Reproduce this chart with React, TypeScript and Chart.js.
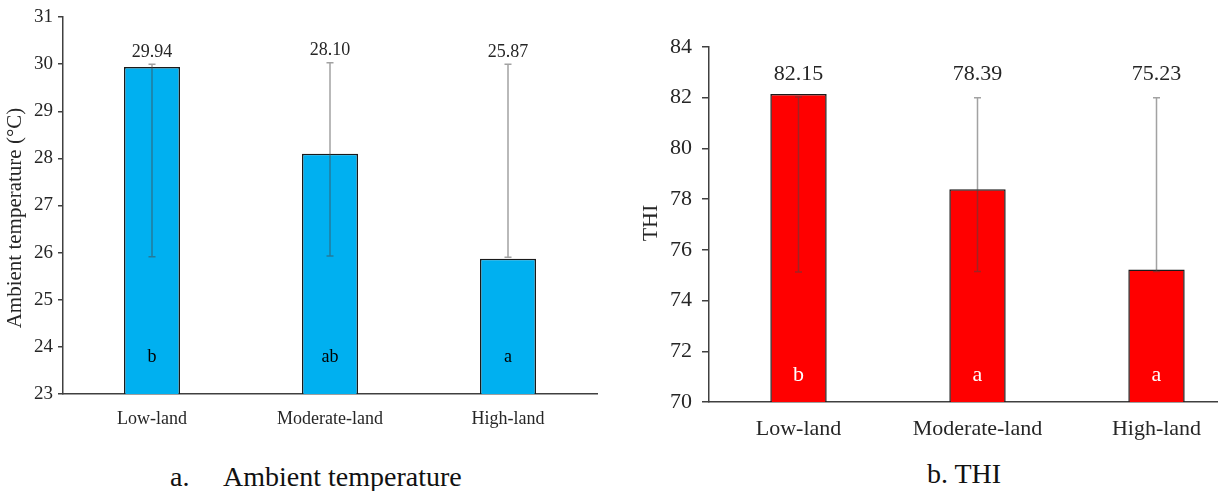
import React, { useEffect, useRef } from "react";
import { Chart, registerables } from "chart.js";

Chart.register(...registerables);

// ---------- data ----------
const categories = ["Low-land", "Moderate-land", "High-land"];

const tempMeans = [29.94, 28.1, 25.87];
const tempErrLow = [25.91, 25.93, 25.9];
const tempErrHigh = [30.0, 30.03, 30.0];
const tempLetters = ["b", "ab", "a"];
const tempTickMin = 23;
const tempTickMax = 31;
const tempTickStep = 1;

const thiMeans = [82.15, 78.39, 75.23];
const thiErrLow = [75.13, 75.15, 75.15];
const thiErrHigh = [82.03, 82.0, 82.0];
const thiLetters = ["b", "a", "a"];
const thiTickMin = 70;
const thiTickMax = 84;
const thiTickStep = 2;

const SERIF = '"Liberation Serif", "Times New Roman", serif';
const TEXT = "#262626";
const AXIS = "#404040";

type Cfg = {
  width: number;
  height: number;
  values: number[];
  errLow: number[];
  errHigh: number[];
  letters: string[];
  min: number;
  max: number;
  step: number;
  fill: string;
  yAxisWidth: number;
  xAxisHeight: number;
  padTop: number;
  padRight: number;
  tickFont: number;
  tickLen: number;
  tickPad: number;
  catFont: number;
  catPad: number;
  valueFont: number;
  valueOffset: number;
  letterFont: number;
  letterColor: string;
  letterOffset: number;
  yTitle: string;
  yTitleFont: number;
  yTitleX: number;
  yTitleY: number;
  barPct: number;
};

function makePlugin(c: Cfg) {
  return {
    id: "annot",
    afterDatasetsDraw(chart: any) {
      const { ctx, chartArea } = chart;
      const meta = chart.getDatasetMeta(0);
      const y = chart.scales.y;
      meta.data.forEach((bar: any, i: number) => {
        const x = bar.x;
        const yHi = y.getPixelForValue(c.errHigh[i]);
        const yLo = y.getPixelForValue(c.errLow[i]);
        const cap = 3.5;
        ctx.save();
        ctx.strokeStyle = "rgba(70,70,70,0.5)";
        ctx.lineWidth = 1.5;
        ctx.beginPath();
        ctx.moveTo(x, yHi);
        ctx.lineTo(x, yLo);
        ctx.moveTo(x - cap, yHi);
        ctx.lineTo(x + cap, yHi);
        ctx.moveTo(x - cap, yLo);
        ctx.lineTo(x + cap, yLo);
        ctx.stroke();
        ctx.textAlign = "center";
        ctx.textBaseline = "middle";
        ctx.fillStyle = TEXT;
        ctx.font = `${c.valueFont}px ${SERIF}`;
        ctx.fillText(c.values[i].toFixed(2), x, yHi - c.valueOffset);
        ctx.fillStyle = c.letterColor;
        ctx.font = `${c.letterFont}px ${SERIF}`;
        ctx.fillText(c.letters[i], x, chartArea.bottom - c.letterOffset);
        ctx.restore();
      });
      ctx.save();
      ctx.translate(c.yTitleX, c.yTitleY);
      ctx.rotate(-Math.PI / 2);
      ctx.textAlign = "center";
      ctx.textBaseline = "middle";
      ctx.fillStyle = TEXT;
      ctx.font = `${c.yTitleFont}px ${SERIF}`;
      ctx.fillText(c.yTitle, 0, 0);
      ctx.restore();
    },
  };
}

function BarPanel({ cfg, left }: { cfg: Cfg; left: number }) {
  const ref = useRef<HTMLCanvasElement | null>(null);
  useEffect(() => {
    if (!ref.current) return;
    const chart = new Chart(ref.current, {
      type: "bar",
      data: {
        labels: categories,
        datasets: [
          {
            data: cfg.values,
            backgroundColor: cfg.fill,
            borderColor: "#1a1a1a",
            borderWidth: 1.5,
            borderSkipped: false,
            categoryPercentage: 1,
            barPercentage: cfg.barPct,
          },
        ],
      },
      options: {
        responsive: false,
        animation: false,
        devicePixelRatio: 1,
        layout: { padding: { top: cfg.padTop, right: cfg.padRight, left: 0, bottom: 0 } },
        plugins: { legend: { display: false }, tooltip: { enabled: false }, title: { display: false } },
        scales: {
          x: {
            type: "category",
            offset: true,
            grid: { display: false, drawTicks: false },
            border: { display: true, color: AXIS, width: 1.5 },
            ticks: {
              color: TEXT,
              padding: cfg.catPad,
              maxRotation: 0,
              font: { family: SERIF, size: cfg.catFont },
            },
            afterFit: (s: any) => {
              s.height = cfg.xAxisHeight;
            },
          },
          y: {
            min: cfg.min,
            max: cfg.max,
            grid: { drawOnChartArea: false, drawTicks: true, tickLength: cfg.tickLen, color: AXIS, lineWidth: 1.5 },
            border: { display: true, color: AXIS, width: 1.5 },
            ticks: {
              stepSize: cfg.step,
              color: TEXT,
              padding: cfg.tickPad,
              font: { family: SERIF, size: cfg.tickFont },
            },
            afterFit: (s: any) => {
              s.width = cfg.yAxisWidth;
            },
          },
        },
      } as any,
      plugins: [makePlugin(cfg)],
    });
    return () => chart.destroy();
  }, [cfg]);
  return (
    <div style={{ position: "absolute", left, top: 0, width: cfg.width, height: cfg.height }}>
      <canvas ref={ref} width={cfg.width} height={cfg.height} />
    </div>
  );
}

const leftCfg: Cfg = {
  width: 612,
  height: 440,
  values: tempMeans,
  errLow: tempErrLow,
  errHigh: tempErrHigh,
  letters: tempLetters,
  min: tempTickMin,
  max: tempTickMax,
  step: tempTickStep,
  fill: "#00B0F0",
  yAxisWidth: 63,
  xAxisHeight: 46,
  padTop: 17,
  padRight: 15,
  tickFont: 19,
  tickLen: 5,
  tickPad: 5,
  catFont: 18,
  catPad: 14,
  valueFont: 18,
  valueOffset: 12,
  letterFont: 18,
  letterColor: "#000000",
  letterOffset: 37,
  yTitle: "Ambient temperature (°C)",
  yTitleFont: 21,
  yTitleX: 15,
  yTitleY: 218,
  barPct: 0.315,
};

const rightCfg: Cfg = {
  width: 640,
  height: 440,
  values: thiMeans,
  errLow: thiErrLow,
  errHigh: thiErrHigh,
  letters: thiLetters,
  min: thiTickMin,
  max: thiTickMax,
  step: thiTickStep,
  fill: "#FF0000",
  yAxisWidth: 89,
  xAxisHeight: 38,
  padTop: 47,
  padRight: 14,
  tickFont: 22,
  tickLen: 7,
  tickPad: 10,
  catFont: 22,
  catPad: 14,
  valueFont: 22,
  valueOffset: 23,
  letterFont: 22,
  letterColor: "#FFFFFF",
  letterOffset: 27,
  yTitle: "THI",
  yTitleFont: 22,
  yTitleX: 31,
  yTitleY: 223,
  barPct: 0.315,
};

export default function App() {
  const cap: React.CSSProperties = {
    position: "absolute",
    fontFamily: SERIF,
    fontSize: 28,
    lineHeight: "30px",
    color: "#111",
    whiteSpace: "pre",
  };
  return (
    <div
      style={{
        position: "absolute",
        left: 0,
        top: 0,
        width: 1218,
        height: 491,
        overflow: "hidden",
        background: "#fff",
      }}
    >
      <BarPanel cfg={leftCfg} left={0} />
      <BarPanel cfg={rightCfg} left={620} />
      <div style={{ ...cap, left: 170, top: 462 }}>a.</div>
      <div style={{ ...cap, left: 223, top: 462 }}>Ambient temperature</div>
      <div style={{ ...cap, left: 927, top: 459 }}>b. THI</div>
    </div>
  );
}
